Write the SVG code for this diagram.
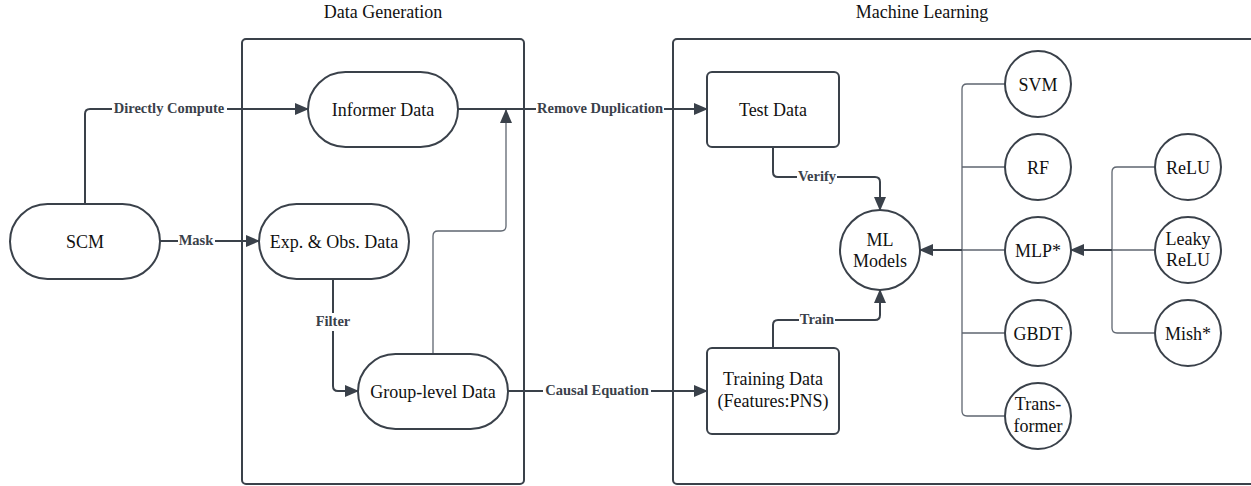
<svg xmlns="http://www.w3.org/2000/svg" width="1251" height="486" viewBox="0 0 1251 486">
<style>
text{font-family:"Liberation Serif","Times New Roman",Times,serif}
.node{fill:#fff;stroke:#3a414a;stroke-width:2}
.frame{fill:none;stroke:#3a414a;stroke-width:2}
.t{font-size:18px;fill:#111;text-anchor:middle}
.title{font-size:18px;fill:#111;text-anchor:middle}
.lbl{font-size:14.5px;font-weight:bold;fill:#3a414a;text-anchor:middle}
.c{fill:none;stroke:#3a414a;stroke-width:2}
.thin{fill:none;stroke:#5f6670;stroke-width:1.3}
.lb{fill:#fff}
</style>
<defs>
<marker id="ah" markerUnits="userSpaceOnUse" markerWidth="14" markerHeight="12" refX="13" refY="6" orient="auto" viewBox="0 0 14 12">
<path d="M0,0 L14,6 L0,12 z" fill="#3a414a"/>
</marker>
</defs>
<rect width="1251" height="486" fill="#fff"/>
<g id="frame-data-generation">
<rect class="frame" x="242" y="39" width="282" height="445" rx="4"/>
<text class="title" x="383" y="18" font-family="Liberation Serif, serif">Data Generation</text>
</g>
<g id="frame-machine-learning">
<rect class="frame" x="673" y="39" width="590" height="445" rx="4"/>
<text class="title" x="922" y="18" font-family="Liberation Serif, serif">Machine Learning</text>
</g>
<g id="connectors">
<path class="c" d="M85,204 V114 Q85,109 90,109 H308" marker-end="url(#ah)"/>
<path class="c" d="M160,241 H259" marker-end="url(#ah)"/>
<path class="c" d="M458,109 H707" marker-end="url(#ah)"/>
<path class="c" d="M333,279 V386 Q333,391 338,391 H358" marker-end="url(#ah)"/>
<path class="thin" d="M433,353 V236 Q433,231 438,231 H501 Q506,231 506,226 V110" marker-end="url(#ah)"/>
<path class="c" d="M507,391 H707" marker-end="url(#ah)"/>
<path class="c" d="M773,147 V172 Q773,177 778,177 H875 Q880,177 880,182 V210" marker-end="url(#ah)"/>
<path class="c" d="M773,348 V325 Q773,320 778,320 H875 Q880,320 880,315 V290" marker-end="url(#ah)"/>
<path class="thin" d="M1005,84 H967 Q962,84 962,89 V411 Q962,416 967,416 H1005"/>
<path class="thin" d="M1005,167 H962 M1005,250 H962 M1005,333 H962"/>
<path class="c" d="M962,250 H920" marker-end="url(#ah)"/>
<path class="thin" d="M1155,167 H1117 Q1112,167 1112,172 V328 Q1112,333 1117,333 H1155"/>
<path class="thin" d="M1155,250 H1112"/>
<path class="c" d="M1112,250 H1071" stroke-width="2.5" marker-end="url(#ah)"/>
<rect class="lb" x="112" y="100" width="115" height="18"/>
<text class="lbl" x="169" y="113" font-family="Liberation Serif, serif">Directly Compute</text>
<rect class="lb" x="178" y="232" width="37" height="18"/>
<text class="lbl" x="196" y="245" font-family="Liberation Serif, serif">Mask</text>
<rect class="lb" x="536" y="100" width="128" height="18"/>
<text class="lbl" x="600" y="113" font-family="Liberation Serif, serif">Remove Duplication</text>
<rect class="lb" x="313" y="313" width="40" height="18"/>
<text class="lbl" x="333" y="326" font-family="Liberation Serif, serif">Filter</text>
<rect class="lb" x="543" y="382" width="108" height="18"/>
<text class="lbl" x="597" y="395" font-family="Liberation Serif, serif">Causal Equation</text>
<rect class="lb" x="797" y="168" width="40" height="18"/>
<text class="lbl" x="817" y="181" font-family="Liberation Serif, serif">Verify</text>
<rect class="lb" x="799" y="311" width="36" height="18"/>
<text class="lbl" x="817" y="324" font-family="Liberation Serif, serif">Train</text>
</g>
<g id="node-scm" font-family="Liberation Serif, serif">
<rect class="node" x="10" y="204" width="150" height="75" rx="37.5"/>
<text class="t" x="85" y="247.5">SCM</text>
</g>
<g id="node-informer" font-family="Liberation Serif, serif">
<rect class="node" x="308" y="72" width="150" height="75" rx="37.5"/>
<text class="t" x="383" y="115.5">Informer Data</text>
</g>
<g id="node-expobs" font-family="Liberation Serif, serif">
<rect class="node" x="259" y="204" width="150" height="75" rx="37.5"/>
<text class="t" x="334" y="247.5">Exp. &amp; Obs. Data</text>
</g>
<g id="node-group" font-family="Liberation Serif, serif">
<rect class="node" x="358" y="354" width="150" height="75" rx="37.5"/>
<text class="t" x="433" y="397.5">Group-level Data</text>
</g>
<g id="node-test" font-family="Liberation Serif, serif">
<rect class="node" x="707" y="72" width="132" height="75" rx="5"/>
<text class="t" x="773" y="115.5">Test Data</text>
</g>
<g id="node-training" font-family="Liberation Serif, serif">
<rect class="node" x="707" y="348" width="132" height="86" rx="5"/>
<text class="t" x="773" y="384.5">Training Data</text>
<text class="t" x="773" y="406.5">(Features:PNS)</text>
</g>
<g id="node-mlmodels" font-family="Liberation Serif, serif">
<circle class="node" cx="880" cy="250" r="40"/>
<text class="t" x="880" y="246">ML</text>
<text class="t" x="880" y="267">Models</text>
</g>
<g id="node-svm" font-family="Liberation Serif, serif">
<circle class="node" cx="1038" cy="84" r="33"/>
<text class="t" x="1038" y="90.5">SVM</text>
</g>
<g id="node-rf" font-family="Liberation Serif, serif">
<circle class="node" cx="1038" cy="167" r="33"/>
<text class="t" x="1038" y="173.5">RF</text>
</g>
<g id="node-mlp" font-family="Liberation Serif, serif">
<circle class="node" cx="1038" cy="250" r="33"/>
<text class="t" x="1038" y="256.5">MLP*</text>
</g>
<g id="node-gbdt" font-family="Liberation Serif, serif">
<circle class="node" cx="1038" cy="333" r="33"/>
<text class="t" x="1038" y="339.5">GBDT</text>
</g>
<g id="node-transformer" font-family="Liberation Serif, serif">
<circle class="node" cx="1038" cy="416" r="33"/>
<text class="t" x="1038" y="410">Trans-</text>
<text class="t" x="1038" y="432">former</text>
</g>
<g id="node-relu" font-family="Liberation Serif, serif">
<circle class="node" cx="1188" cy="167" r="33"/>
<text class="t" x="1188" y="173.5">ReLU</text>
</g>
<g id="node-leakyrelu" font-family="Liberation Serif, serif">
<circle class="node" cx="1188" cy="250" r="33"/>
<text class="t" x="1188" y="245">Leaky</text>
<text class="t" x="1188" y="266">ReLU</text>
</g>
<g id="node-mish" font-family="Liberation Serif, serif">
<circle class="node" cx="1188" cy="333" r="33"/>
<text class="t" x="1188" y="339.5">Mish*</text>
</g>
</svg>
